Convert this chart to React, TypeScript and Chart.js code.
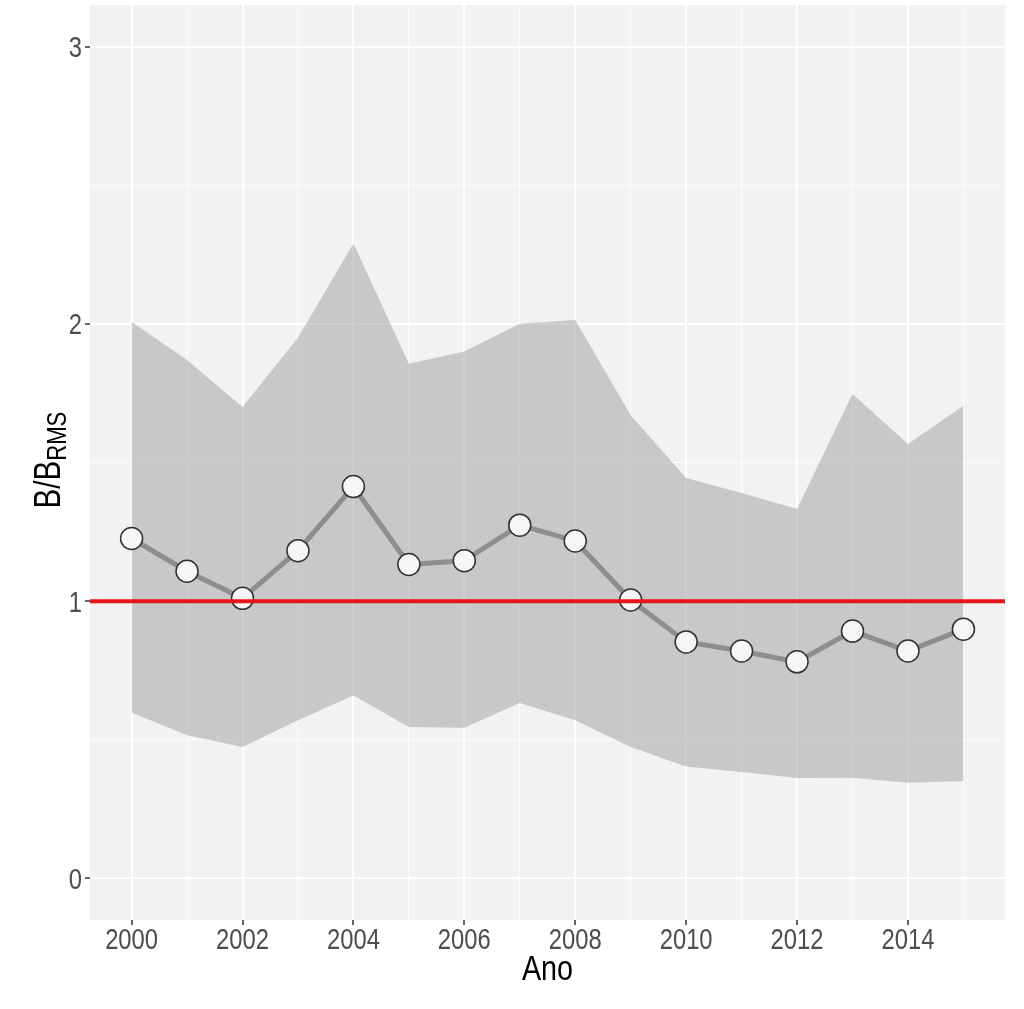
import React, { useEffect, useRef } from "react";
import { Chart, registerables } from "chart.js";

Chart.register(...registerables);

const years = [2000, 2001, 2002, 2003, 2004, 2005, 2006, 2007, 2008, 2009, 2010, 2011, 2012, 2013, 2014, 2015];
const biomass = [1.226, 1.108, 1.01, 1.182, 1.413, 1.132, 1.146, 1.274, 1.217, 1.004, 0.853, 0.82, 0.781, 0.892, 0.82, 0.899];
const upper = [2.008, 1.87, 1.7, 1.95, 2.29, 1.856, 1.9, 2.0, 2.014, 1.67, 1.444, 1.39, 1.332, 1.747, 1.567, 1.705];
const lower = [0.598, 0.516, 0.474, 0.57, 0.66, 0.546, 0.543, 0.633, 0.57, 0.474, 0.404, 0.384, 0.362, 0.363, 0.345, 0.351];
const refLevel = 1;
const xTicks = years;
const xTickLabels = ["2000", "", "2002", "", "2004", "", "2006", "", "2008", "", "2010", "", "2012", "", "2014", ""];
const yTicks = [0, 0.5, 1, 1.5, 2, 2.5, 3];
const yTickLabels = ["0", "", "1", "", "2", "", "3"];
const xLabel = "Ano";
const yLabelMain = "B/B";
const yLabelSub = "RMS";

const FONT = "'Liberation Sans', Arial, Helvetica, sans-serif";
const SQUEEZE = 0.82;

export default function App() {
  const ref = useRef<HTMLCanvasElement | null>(null);

  useEffect(() => {
    document.body.style.margin = "0";
    const canvas = ref.current;
    if (!canvas) return;
    const xMin = 1999.25;
    const xMax = 2015.75;
    const yMin = -0.15;
    const yMax = 3.15;

    const bgPlugin = {
      id: "bg",
      beforeDraw(chart: any) {
        const { ctx, chartArea } = chart;
        ctx.save();
        ctx.fillStyle = "#ffffff";
        ctx.fillRect(0, 0, chart.width, chart.height);
        ctx.fillStyle = "#f2f2f2";
        ctx.fillRect(chartArea.left, chartArea.top, chartArea.right - chartArea.left, chartArea.bottom - chartArea.top);
        ctx.restore();
      },
    };

    const squeezedText = (ctx: any, text: string, x: number, y: number, align: string) => {
      ctx.save();
      ctx.translate(x, y);
      ctx.scale(SQUEEZE, 1);
      ctx.textAlign = align;
      ctx.fillText(text, 0, 0);
      ctx.restore();
    };

    const textPlugin = {
      id: "texts",
      afterDraw(chart: any) {
        const { ctx, chartArea } = chart;
        const xs = chart.scales.x;
        const ys = chart.scales.y;
        ctx.save();
        ctx.textBaseline = "alphabetic";
        ctx.fillStyle = "#4d4d4d";
        ctx.font = `29px ${FONT}`;
        xTicks.forEach((v, i) => {
          const t = xTickLabels[i];
          if (t) squeezedText(ctx, t, xs.getPixelForValue(v), chartArea.bottom + 29, "center");
        });
        yTicks.forEach((v, i) => {
          const t = yTickLabels[i];
          if (t) squeezedText(ctx, t, chartArea.left - 8, ys.getPixelForValue(v) + 10.5, "right");
        });
        ctx.fillStyle = "#000000";
        ctx.font = `35px ${FONT}`;
        squeezedText(ctx, xLabel, (chartArea.left + chartArea.right) / 2, 980, "center");
        const mainFont = `36px ${FONT}`;
        const subFont = `27px ${FONT}`;
        ctx.font = mainFont;
        const w1 = ctx.measureText(yLabelMain).width * SQUEEZE;
        ctx.font = subFont;
        const w2 = ctx.measureText(yLabelSub).width * SQUEEZE;
        const total = w1 + w2;
        ctx.translate(60, 460);
        ctx.rotate(-Math.PI / 2);
        ctx.font = mainFont;
        squeezedText(ctx, yLabelMain, -total / 2, 0, "left");
        ctx.font = subFont;
        squeezedText(ctx, yLabelSub, -total / 2 + w1, 6, "left");
        ctx.restore();
      },
    };

    const chart = new Chart(canvas, {
      type: "line",
      data: {
        datasets: [
          {
            label: "ref",
            data: [
              { x: xMin, y: refLevel },
              { x: xMax, y: refLevel },
            ],
            borderColor: "#e8131b",
            borderWidth: 4,
            pointRadius: 0,
            fill: false,
            order: 0,
          },
          {
            label: "B/BRMS",
            data: years.map((x, i) => ({ x, y: biomass[i] })),
            borderColor: "#8e8e8e",
            borderWidth: 5,
            pointRadius: 11,
            pointBorderWidth: 1.5,
            pointBorderColor: "#303030",
            pointBackgroundColor: "#f6f6f6",
            fill: false,
            tension: 0,
            order: 1,
          },
          {
            label: "upper",
            data: years.map((x, i) => ({ x, y: upper[i] })),
            borderWidth: 0,
            borderColor: "rgba(0,0,0,0)",
            pointRadius: 0,
            backgroundColor: "rgba(158,158,158,0.5)",
            fill: "+1",
            tension: 0,
            order: 3,
          },
          {
            label: "lower",
            data: years.map((x, i) => ({ x, y: lower[i] })),
            borderWidth: 0,
            borderColor: "rgba(0,0,0,0)",
            pointRadius: 0,
            fill: false,
            tension: 0,
            order: 4,
          },
        ],
      },
      options: {
        animation: false,
        responsive: true,
        maintainAspectRatio: false,
        layout: { autoPadding: false, padding: { left: 0, right: 19, top: 5, bottom: 0 } },
        plugins: {
          legend: { display: false },
          tooltip: { enabled: false },
        },
        scales: {
          x: {
            type: "linear",
            min: xMin,
            max: xMax,
            border: { display: false },
            afterBuildTicks: (scale: any) => {
              scale.ticks = xTicks.map((v) => ({ value: v }));
            },
            afterFit: (scale: any) => {
              scale.height = 89;
              scale.paddingLeft = 0;
              scale.paddingRight = 0;
              scale.paddingTop = 0;
              scale.paddingBottom = 0;
            },
            grid: {
              color: (c: any) => (c.tick && c.tick.value % 2 === 0 ? "#ffffff" : "rgba(255,255,255,0.75)"),
              lineWidth: (c: any) => (c.tick && c.tick.value % 2 === 0 ? 2 : 1),
              tickColor: (c: any) => (c.tick && c.tick.value % 2 === 0 ? "#333333" : "rgba(0,0,0,0)"),
              tickLength: 5,
              tickWidth: 1.5,
            },
            ticks: { display: false, autoSkip: false, maxRotation: 0, minRotation: 0 },
          },
          y: {
            type: "linear",
            min: yMin,
            max: yMax,
            border: { display: false },
            afterBuildTicks: (scale: any) => {
              scale.ticks = yTicks.map((v) => ({ value: v }));
            },
            afterFit: (scale: any) => {
              scale.width = 90;
              scale.paddingLeft = 0;
              scale.paddingRight = 0;
              scale.paddingTop = 0;
              scale.paddingBottom = 0;
            },
            grid: {
              color: (c: any) => (c.tick && Number.isInteger(c.tick.value) ? "#ffffff" : "rgba(255,255,255,0.75)"),
              lineWidth: (c: any) => (c.tick && Number.isInteger(c.tick.value) ? 2 : 1),
              tickColor: (c: any) => (c.tick && Number.isInteger(c.tick.value) ? "#333333" : "rgba(0,0,0,0)"),
              tickLength: 5,
              tickWidth: 1.5,
            },
            ticks: { display: false, autoSkip: false },
          },
        },
      },
      plugins: [bgPlugin, textPlugin],
    } as any);

    return () => chart.destroy();
  }, []);

  return (
    <div style={{ width: 1024, height: 1009, position: "relative" }}>
      <canvas ref={ref} />
    </div>
  );
}
